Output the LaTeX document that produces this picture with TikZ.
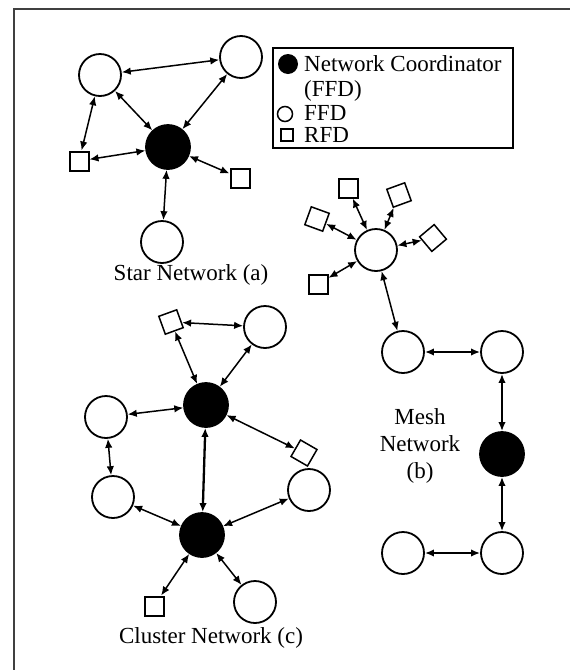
\documentclass[tikz,border=0pt]{standalone}
\usepackage{fontspec}
\setmainfont{Liberation Serif}
\usetikzlibrary{arrows.meta}
\begin{document}
\begin{tikzpicture}[x=1pt,y=-1pt,
  ffd/.style={circle,draw,line width=1.8pt,minimum size=42pt,inner sep=0pt},
  coord/.style={circle,draw,fill=black,line width=1.8pt,minimum size=44pt,inner sep=0pt},
  rfd/.style={rectangle,draw,line width=2pt,minimum size=19pt,inner sep=0pt},
  rfdt/.style={rectangle,draw,line width=1.5pt,minimum size=19pt,inner sep=0pt},
  link/.style={{Latex[length=9pt,width=7.5pt]}-{Latex[length=9pt,width=7.5pt]},line width=1.5pt},
  tlink/.style={{Latex[length=9pt,width=7.5pt]}-{Latex[length=9pt,width=7.5pt]},line width=2.3pt},
  lbl/.style={font=\fontsize{23}{27}\selectfont,inner sep=0pt}
]
\useasboundingbox (0,0) rectangle (570,670);
% frame
\draw[line width=1.6pt,black!75] (14,670) -- (14,9) -- (570,9);

% ---------------- Star network (a)
\node[ffd] (sA) at (100,75) {};
\node[ffd] (sB) at (241,57) {};
\node[coord] (sC) at (168,147) {};
\node[rfd] (sL) at (79,161) {};
\node[rfd] (sR) at (240,178) {};
\node[ffd] (sD) at (162,242) {};
\draw[link] (sA) -- (sB);
\draw[link] (sA) -- (sC);
\draw[link] (sB) -- (sC);
\draw[link] (sA) -- (sL);
\draw[link] (sL) -- (sC);
\draw[link] (sC) -- (sR);
\draw[link] (sC) -- (sD);
\node[lbl] (starlbl) at (191,275) {Star Network (a)};

% ---------------- Legend
\node[draw,line width=2.5pt,minimum width=240pt,minimum height=100pt,inner sep=0pt] (leg) at (393,98) {};
\node[circle,fill=black,minimum size=20pt,inner sep=0pt] (lgC) at (288,64) {};
\node[lbl,anchor=west] (lgT1) at (304,64) {Network Coordinator};
\node[lbl,anchor=west] (lgT2) at (304,91) {(FFD)};
\node[circle,draw,line width=1.5pt,minimum size=15pt,inner sep=0pt] (lgF) at (285,114) {};
\node[lbl,anchor=west] (lgT3) at (304,113) {FFD};
\node[rectangle,draw,line width=2pt,minimum size=12pt,inner sep=0pt] (lgR) at (287,135) {};
\node[lbl,anchor=west] (lgT4) at (304,135) {RFD};

% ---------------- Mesh network (b)
\node[ffd] (mH) at (376,250) {};
\node[rfd] (m1) at (348,188) {};
\node[rfdt,rotate=20] (m2) at (399,195) {};
\node[rfdt,rotate=-20] (m3) at (317,219) {};
\node[rfdt,rotate=40] (m4) at (433,238) {};
\node[rfd] (m5) at (318,284) {};
\draw[link] (m1) -- (mH);
\draw[link] (m2) -- (mH);
\draw[link] (m3) -- (mH);
\draw[link] (m4) -- (mH);
\draw[link] (m5) -- (mH);
\node[ffd] (mA) at (403,352) {};
\node[ffd] (mB) at (502,352) {};
\node[coord] (mC) at (502,454) {};
\node[ffd] (mD) at (403,553) {};
\node[ffd] (mE) at (502,553) {};
\draw[link] (mH) -- (mA);
\draw[tlink] (mA) -- (mB);
\draw[tlink] (mB) -- (mC);
\draw[tlink] (mC) -- (mE);
\draw[tlink] (mD) -- (mE);
\node[lbl,align=center,font=\fontsize{23}{27}\selectfont] (meshlbl) at (420,446) {Mesh\\Network\\(b)};

% ---------------- Cluster network (c)
\node[rfdt,rotate=20] (cS1) at (171,322) {};
\node[ffd] (cA) at (265,327) {};
\node[coord] (cT) at (206,405) {};
\node[ffd] (cL1) at (106,417) {};
\node[rfdt,rotate=-30] (cS2) at (304,453) {};
\node[ffd] (cL2) at (113,497) {};
\node[ffd] (cR) at (309,490) {};
\node[coord] (cB) at (202,535) {};
\node[rfd] (cS3) at (154,606) {};
\node[ffd] (cD) at (255,602) {};
\draw[link] (cS1) -- (cA);
\draw[link] (cS1) -- (cT);
\draw[link] (cA) -- (cT);
\draw[link] (cL1) -- (cT);
\draw[link] (cT) -- (cS2);
\draw[link] (cL1) -- (cL2);
\draw[tlink] (cT) -- (cB);
\draw[link] (cL2) -- (cB);
\draw[link] (cR) -- (cB);
\draw[link] (cB) -- (cS3);
\draw[link] (cB) -- (cD);
\node[lbl] (clulbl) at (211,638) {Cluster Network (c)};
\end{tikzpicture}
\end{document}
